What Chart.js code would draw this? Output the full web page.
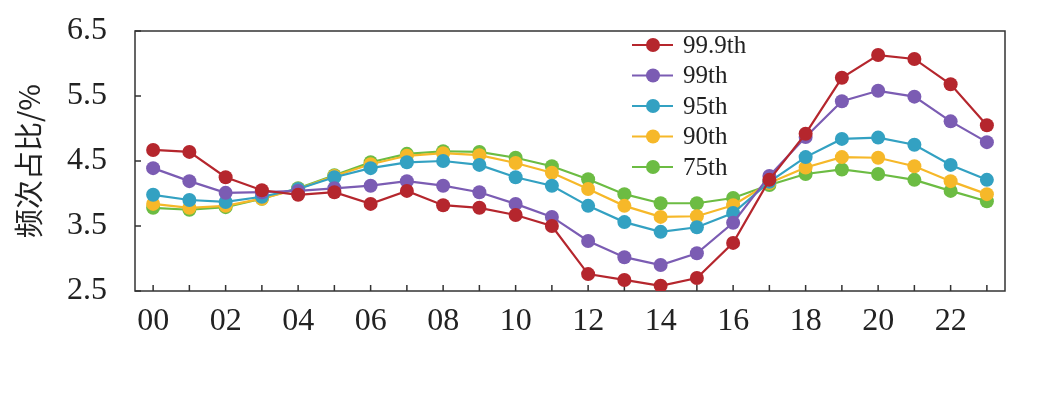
<!DOCTYPE html>
<html>
<head>
<meta charset="utf-8">
<script src="https://cdn.jsdelivr.net/npm/chart.js@4.4.0/dist/chart.umd.min.js"></script>
<style>
  html, body { margin: 0; padding: 0; background: #ffffff; }
  #wrap { width: 1043px; height: 395px; }
</style>
</head>
<body>
<div id="wrap"><canvas id="freqChart" width="1043" height="395"></canvas></div>
<script>
// hours of the day
const hours = ['00','01','02','03','04','05','06','07','08','09','10','11',
               '12','13','14','15','16','17','18','19','20','21','22','23'];

// percentile series (frequency share, %)
const p999 = [4.67, 4.64, 4.25, 4.05, 3.98, 4.02, 3.84, 4.04, 3.82, 3.78, 3.67, 3.50,
              2.76, 2.67, 2.58, 2.70, 3.24, 4.21, 4.92, 5.78, 6.13, 6.07, 5.68, 5.05];
const p99  = [4.39, 4.19, 4.01, 4.02, 4.04, 4.08, 4.12, 4.19, 4.12, 4.02, 3.84, 3.64,
              3.27, 3.02, 2.90, 3.08, 3.55, 4.27, 4.87, 5.42, 5.58, 5.49, 5.11, 4.79];
const p95  = [3.98, 3.90, 3.87, 3.95, 4.07, 4.25, 4.39, 4.48, 4.50, 4.44, 4.25, 4.12,
              3.81, 3.56, 3.41, 3.48, 3.70, 4.18, 4.56, 4.84, 4.86, 4.75, 4.44, 4.21];
const p90  = [3.84, 3.78, 3.81, 3.92, 4.07, 4.27, 4.45, 4.58, 4.62, 4.59, 4.47, 4.32,
              4.07, 3.81, 3.64, 3.65, 3.82, 4.16, 4.40, 4.56, 4.55, 4.42, 4.19, 3.99];
const p75  = [3.78, 3.75, 3.79, 3.92, 4.08, 4.28, 4.48, 4.61, 4.65, 4.64, 4.55, 4.42,
              4.22, 3.99, 3.85, 3.85, 3.93, 4.13, 4.30, 4.37, 4.30, 4.21, 4.04, 3.88];

const seriesNames = ['99.9th', '99th', '95th', '90th', '75th'];
const seriesColors = ['#b5262d', '#7b5cb3', '#33a1c2', '#f6b829', '#6cbc43'];

// y axis range and labelled ticks
const yMin = 2.5;
const yMax = 6.5;
const yLabelTicks = [2.5, 3.5, 4.5, 5.5, 6.5];

const axisColor = '#333333';
const serif = '"Liberation Serif", "DejaVu Serif", serif';

// frame + inward tick marks
const framePlugin = {
  id: 'frame',
  beforeDatasetsDraw(chart) {
    const { ctx, chartArea, scales } = chart;
    ctx.save();
    ctx.strokeStyle = axisColor;
    ctx.lineWidth = 1.5;
    ctx.strokeRect(chartArea.left, chartArea.top,
                   chartArea.right - chartArea.left, chartArea.bottom - chartArea.top);
    ctx.beginPath();
    // y ticks every 0.5
    scales.y.ticks.forEach(t => {
      const y = scales.y.getPixelForValue(t.value);
      ctx.moveTo(chartArea.left, y);
      ctx.lineTo(chartArea.left + 6, y);
    });
    // x ticks at every hour
    hours.forEach((h, i) => {
      const x = scales.x.getPixelForValue(i);
      ctx.moveTo(x, chartArea.bottom);
      ctx.lineTo(x, chartArea.bottom - 6);
    });
    ctx.stroke();
    ctx.restore();
  }
};

// legend drawn inside the plot area
const legendPlugin = {
  id: 'innerLegend',
  afterDraw(chart) {
    const { ctx } = chart;
    const x0 = 632, y0 = 45, gap = 30.5;
    ctx.save();
    ctx.font = '25px ' + serif;
    ctx.textBaseline = 'middle';
    chart.data.datasets.forEach((ds, i) => {
      const y = y0 + i * gap;
      ctx.strokeStyle = ds.borderColor;
      ctx.lineWidth = 2;
      ctx.beginPath();
      ctx.moveTo(x0, y);
      ctx.lineTo(x0 + 41, y);
      ctx.stroke();
      ctx.fillStyle = ds.backgroundColor;
      ctx.beginPath();
      ctx.arc(x0 + 21, y, 7, 0, Math.PI * 2);
      ctx.fill();
      ctx.fillStyle = '#222222';
      ctx.fillText(ds.label, x0 + 51, y + 1);
    });
    ctx.restore();
  }
};

document.addEventListener("DOMContentLoaded", function() {
  const ctx = document.getElementById('freqChart').getContext('2d');
  const allSeries = [p999, p99, p95, p90, p75];

  // first series drawn on top
  const datasets = allSeries.map((vals, i) => ({
    label: seriesNames[i],
    data: vals,
    order: i,
    borderColor: seriesColors[i],
    backgroundColor: seriesColors[i],
    borderWidth: 2.2,
    pointRadius: 7,
    pointBorderWidth: 0,
    pointBackgroundColor: seriesColors[i],
    tension: 0
  }));

  new Chart(ctx, {
    type: 'line',
    data: { labels: hours, datasets: datasets },
    options: {
      responsive: false,
      animation: false,
      layout: { autoPadding: false, padding: { left: 0, right: 38, top: 31, bottom: 0 } },
      plugins: { legend: { display: false }, tooltip: { enabled: false } },
      scales: {
        x: {
          offset: true,
          grid: { display: false },
          border: { display: false },
          ticks: {
            autoSkip: false,
            maxRotation: 0,
            padding: 3,
            color: '#222222',
            font: { family: serif, size: 32 },
            callback: function(v, i) { return i % 2 === 0 ? hours[i] : ''; }
          },
          afterFit: s => { s.height = 104; s.paddingLeft = 0; s.paddingRight = 0; }
        },
        y: {
          min: yMin,
          max: yMax,
          grid: { display: false },
          border: { display: false },
          ticks: {
            stepSize: 0.5,
            padding: 20,
            color: '#222222',
            font: { family: serif, size: 32 },
            callback: function(v) { return yLabelTicks.includes(v) ? v.toFixed(1) : ''; }
          },
          title: {
            display: true,
            text: '频次占比/%',
            color: '#222222',
            font: { family: '"Noto Sans CJK SC", sans-serif', size: 29 },
            padding: { top: 12, bottom: 0 }
          },
          afterFit: s => { s.width = 135; s.paddingTop = 0; s.paddingBottom = 0; }
        }
      }
    },
    plugins: [framePlugin, legendPlugin]
  });
});
</script>
</body>
</html>
